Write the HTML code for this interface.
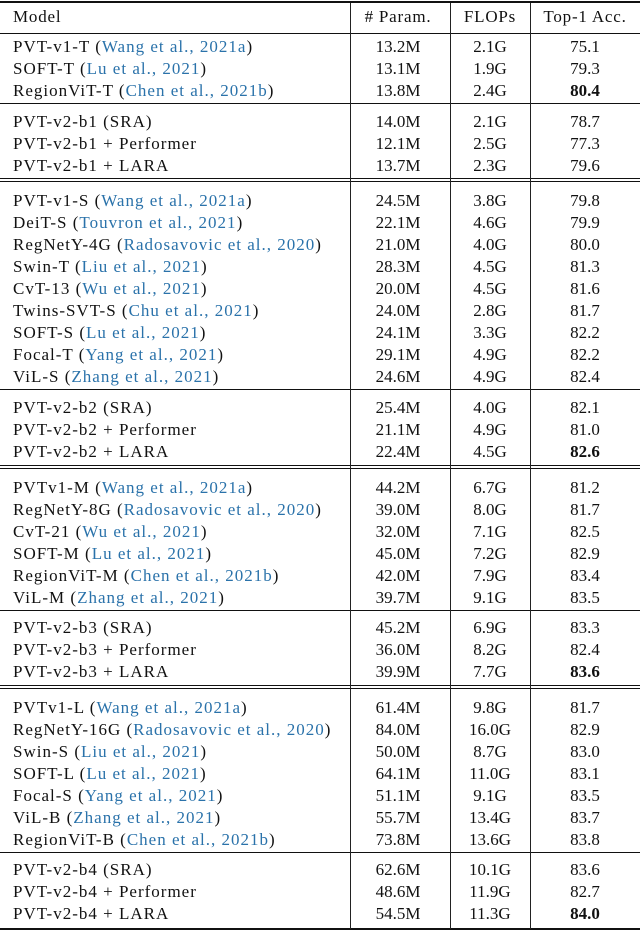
<!DOCTYPE html>
<html><head><meta charset="utf-8"><style>
body{margin:0;width:640px;height:933px;background:#fff;position:relative;overflow:hidden;font-family:"Liberation Serif",serif;font-size:17px;color:#111}
.t{position:absolute;white-space:nowrap;line-height:20px}
.m{letter-spacing:1px}
.hd{letter-spacing:0.8px}
.c{transform:translateX(-50%)}
.l{color:#2a72aa}
.h{position:absolute;left:0;width:640px;background:#111}
.v{position:absolute;width:1px;background:#222}
b{font-weight:bold}
</style></head><body>
<script>
const models=[["PVT-v1-T","Wang et al., 2021a"],["SOFT-T","Lu et al., 2021"],["RegionViT-T","Chen et al., 2021b"],
["PVT-v2-b1 (SRA)",""],["PVT-v2-b1 + Performer",""],["PVT-v2-b1 + LARA",""],
["PVT-v1-S","Wang et al., 2021a"],["DeiT-S","Touvron et al., 2021"],["RegNetY-4G","Radosavovic et al., 2020"],["Swin-T","Liu et al., 2021"],["CvT-13","Wu et al., 2021"],["Twins-SVT-S","Chu et al., 2021"],["SOFT-S","Lu et al., 2021"],["Focal-T","Yang et al., 2021"],["ViL-S","Zhang et al., 2021"],
["PVT-v2-b2 (SRA)",""],["PVT-v2-b2 + Performer",""],["PVT-v2-b2 + LARA",""],
["PVTv1-M","Wang et al., 2021a"],["RegNetY-8G","Radosavovic et al., 2020"],["CvT-21","Wu et al., 2021"],["SOFT-M","Lu et al., 2021"],["RegionViT-M","Chen et al., 2021b"],["ViL-M","Zhang et al., 2021"],
["PVT-v2-b3 (SRA)",""],["PVT-v2-b3 + Performer",""],["PVT-v2-b3 + LARA",""],
["PVTv1-L","Wang et al., 2021a"],["RegNetY-16G","Radosavovic et al., 2020"],["Swin-S","Liu et al., 2021"],["SOFT-L","Lu et al., 2021"],["Focal-S","Yang et al., 2021"],["ViL-B","Zhang et al., 2021"],["RegionViT-B","Chen et al., 2021b"],
["PVT-v2-b4 (SRA)",""],["PVT-v2-b4 + Performer",""],["PVT-v2-b4 + LARA",""]];
const params=["13.2M","13.1M","13.8M","14.0M","12.1M","13.7M","24.5M","22.1M","21.0M","28.3M","20.0M","24.0M","24.1M","29.1M","24.6M","25.4M","21.1M","22.4M","44.2M","39.0M","32.0M","45.0M","42.0M","39.7M","45.2M","36.0M","39.9M","61.4M","84.0M","50.0M","64.1M","51.1M","55.7M","73.8M","62.6M","48.6M","54.5M"];
const flops=["2.1G","1.9G","2.4G","2.1G","2.5G","2.3G","3.8G","4.6G","4.0G","4.5G","4.5G","2.8G","3.3G","4.9G","4.9G","4.0G","4.9G","4.5G","6.7G","8.0G","7.1G","7.2G","7.9G","9.1G","6.9G","8.2G","7.7G","9.8G","16.0G","8.7G","11.0G","9.1G","13.4G","13.6G","10.1G","11.9G","11.3G"];
const acc=["75.1","79.3","80.4","78.7","77.3","79.6","79.8","79.9","80.0","81.3","81.6","81.7","82.2","82.2","82.4","82.1","81.0","82.6","81.2","81.7","82.5","82.9","83.4","83.5","83.3","82.4","83.6","81.7","82.9","83.0","83.1","83.5","83.7","83.8","83.6","82.7","84.0"];
const bold=[2,17,26,36];
const groups=[[3,47],[3,122],[9,201],[3,408],[6,488],[3,628],[7,708],[3,870]];
const seps=[[103,1],[178,1],[181,1],[389,1],[465,1],[468,1],[610,1],[685,1],[688,1],[852,1]];
const B=document.body;
function add(cls,style,html,name){const d=document.createElement('div');d.className=cls;d.style.cssText=style;if(html!==undefined)d.innerHTML=html;


B.appendChild(d);return d;}
add('h','top:1px;height:2px','','top-rule');
add('h','top:33px;height:1px','','header-rule');
add('h','top:928px;height:2px','','bottom-rule');
seps.forEach(s=>add('h','top:'+s[0]+'px;height:'+s[1]+'px','','group-separator'));
[350,450,530].forEach(x=>add('v','left:'+x+'px;top:3px;height:926px','','column-divider'));
add('t hd','left:13px;top:7px','Model','header-model');
add('t c hd','left:398px;top:7px','# Param.','header-params');
add('t c hd','left:490px;top:7px','FLOPs','header-flops');
add('t c hd','left:585px;top:7px','Top-1 Acc.','header-acc');
let i=0;
groups.forEach(g=>{for(let k=0;k<g[0];k++,i++){const y=g[1]+k*22-10;const m=models[i];
let html=m[0]+(m[1]?' (<span class="l">'+m[1]+'</span>)':'');
add('t m','left:13px;top:'+y+'px',html,'model-name');
add('t c','left:398px;top:'+y+'px',params[i],'param-value');
add('t c','left:490px;top:'+y+'px',flops[i],'flops-value');
add('t c','left:585px;top:'+y+'px',bold.includes(i)?'<b>'+acc[i]+'</b>':acc[i],'accuracy-value');}});
</script>
</body></html>
